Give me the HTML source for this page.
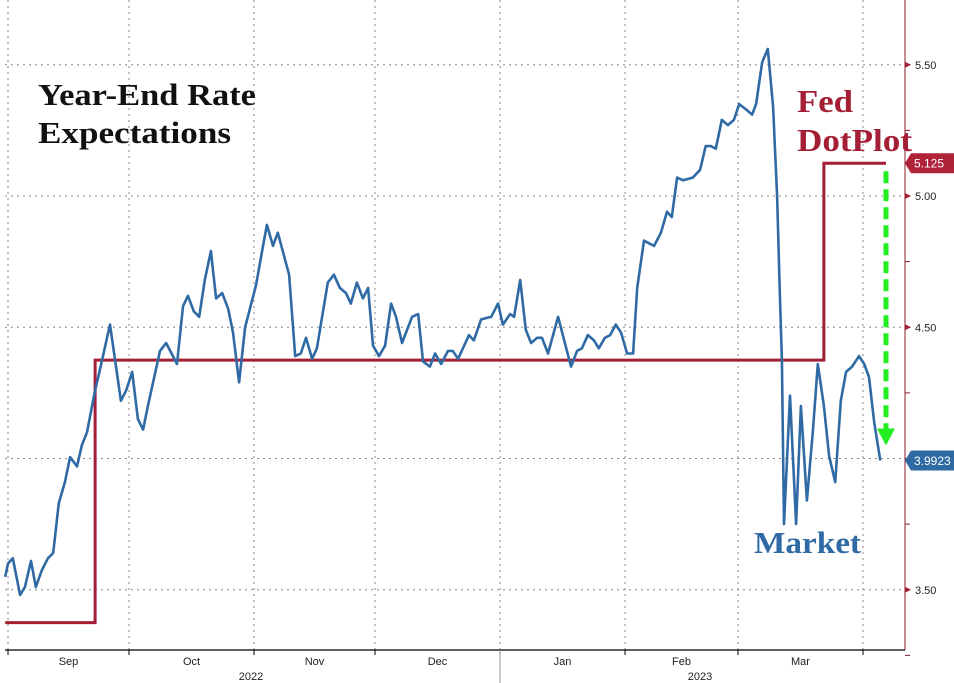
<!DOCTYPE html>
<html><head><meta charset="utf-8">
<style>
html,body{margin:0;padding:0;background:#fff;}
svg{display:block;}
</style></head>
<body>
<svg id="chart" width="954" height="683" viewBox="0 0 954 683" xmlns="http://www.w3.org/2000/svg">
<rect width="954" height="683" fill="#fff"/>
<g id="grid"></g>
<g id="fed"></g>
<g id="market"></g>
<g id="axis"></g>
<text x="38" y="105" font-family="Liberation Serif, serif" font-weight="bold" font-size="31" fill="#111" textLength="218" lengthAdjust="spacingAndGlyphs">Year-End Rate</text>
<text x="38" y="143" font-family="Liberation Serif, serif" font-weight="bold" font-size="31" fill="#111" textLength="193" lengthAdjust="spacingAndGlyphs">Expectations</text>
<text x="797" y="112" font-family="Liberation Serif, serif" font-weight="bold" font-size="32" fill="#a41e35" textLength="56" lengthAdjust="spacingAndGlyphs">Fed</text>
<text x="797" y="151" font-family="Liberation Serif, serif" font-weight="bold" font-size="32" fill="#a41e35" textLength="115" lengthAdjust="spacingAndGlyphs">DotPlot</text>
<text x="754" y="553" font-family="Liberation Serif, serif" font-weight="bold" font-size="31" fill="#2f6aa5" textLength="107" lengthAdjust="spacingAndGlyphs">Market</text>
</svg>
<script>
// Month boundaries (day offsets from Sep 1, 2022)
const monthNames = ["Sep","Oct","Nov","Dec","Jan","Feb","Mar"];
const monthStarts = [0,30,61,91,122,153,181,212];
const yTicks = [3.5,4.5,5.0,5.5];
const gridValues = [3.5,4.0,4.5,5.0,5.5];
// Market-implied year-end rate: day offsets and values
const marketDays = [-0.7,0,1.2,3.0,4.2,5.7,6.9,8.4,9.9,11.2,12.6,14.1,15.4,17.1,18.3,19.6,21.6,22.8,25.3,28.0,29.3,30.8,32.2,33.5,34.7,37.7,39.2,41.9,43.4,44.6,46.1,47.4,48.8,50.3,51.6,53.1,54.6,55.8,57.3,58.8,61.5,63.0,64.2,65.7,66.9,69.7,71.2,72.6,73.9,75.4,76.6,78.1,79.3,80.8,82.3,83.8,85.0,86.5,88.0,89.3,90.5,92.0,93.5,95.0,96.2,97.7,
100.2,101.7,102.9,104.6,105.9,107.4,109.1,110.3,111.6,114.3,115.5,117.3,119.8,121.5,122.7,124.5,125.5,127.0,128.4,129.7,131.2,132.4,133.9,136.4,139.6,141.1,142.3,143.8,145.3,146.5,148.0,149.3,150.7,152.0,153.5,155.0,156.0,157.7,158.9,160.2,161.9,163.4,164.6,165.9,167.4,169.8,171.6,173.0,174.3,175.5,177.0,178.5,180.0,181.3,183.0,184.5,185.5,187.0,188.4,189.7,190.7,191.4,191.9,192.4,193.9,195.4,196.6,198.1,199.6,200.8,202.3,203.6,205.1,206.5,207.8,209.3,211.0,212.3,213.5,214.8,216.3];
const marketValues = [3.549,3.60,3.62,3.48,3.51,3.61,3.51,3.575,3.62,3.64,3.83,3.91,4.005,3.97,4.05,4.10,4.26,4.34,4.51,4.22,4.26,4.33,4.15,4.11,4.20,4.41,4.44,4.36,4.58,4.62,4.56,4.54,4.68,4.79,4.61,4.63,4.57,4.48,4.29,4.50,4.66,4.79,4.89,4.81,4.86,4.70,4.39,4.40,4.46,4.38,4.42,4.56,4.67,4.70,4.65,4.63,4.59,4.67,4.61,4.65,4.43,4.39,4.43,4.59,4.54,4.44,
4.54,4.55,4.37,4.35,4.40,4.36,4.41,4.41,4.38,4.47,4.45,4.53,4.54,4.59,4.51,4.55,4.54,4.68,4.49,4.44,4.46,4.46,4.40,4.54,4.35,4.41,4.42,4.47,4.45,4.42,4.46,4.47,4.51,4.48,4.40,4.40,4.65,4.83,4.82,4.81,4.86,4.94,4.92,5.07,5.06,5.07,5.10,5.19,5.19,5.18,5.29,5.27,5.29,5.35,5.33,5.31,5.35,5.51,5.56,5.34,5.00,4.62,4.375,3.75,4.24,3.75,4.20,3.84,4.11,4.36,4.20,4.01,3.91,4.22,4.33,4.35,4.39,4.36,4.31,4.135,3.9923];
// Fed dot plot median (step series)
const fedDays = [-0.7,21.6,202.3,217.7];
const fedValues = [3.375,4.375,5.125,5.125];
const lastMarket = 3.9923;
const lastFed = 5.125;

const NS="http://www.w3.org/2000/svg";
const X0=8, X1=863, PLOT_L=5, PLOT_R=905, AXIS_Y=650;
function xs(d){return X0+(d/212)*(X1-X0);}
function ys(v){return 458.5-(v-4)*262.5;}
function mk(tag,attrs,parent){const e=document.createElementNS(NS,tag);for(const k in attrs)e.setAttribute(k,attrs[k]);parent.appendChild(e);return e;}
const grid=document.getElementById('grid'),fed=document.getElementById('fed'),mkt=document.getElementById('market'),ax=document.getElementById('axis');

gridValues.forEach(v=>{
  const l=mk('line',{x1:PLOT_L,x2:PLOT_R,y1:ys(v),y2:ys(v),stroke:'#888','stroke-width':1,'stroke-dasharray':'2,4'},grid);
  
  
});
monthStarts.forEach(d=>{
  const l=mk('line',{x1:xs(d),x2:xs(d),y1:0,y2:AXIS_Y,stroke:'#888','stroke-width':1,'stroke-dasharray':'2,4'},grid);
  
  
});

let fp='';
for(let i=0;i<fedDays.length;i++){
  const x=xs(fedDays[i]),y=ys(fedValues[i]);
  if(i===0) fp+=`M${x},${y}`; else fp+=`H${x}V${y}`;
}
const fl=mk('path',{d:fp,fill:'none',stroke:'#a41e35','stroke-width':3},fed);



const mp=marketDays.map((d,i)=>(i?'L':'M')+xs(d).toFixed(1)+','+ys(marketValues[i]).toFixed(1)).join('');
const ml=mk('path',{d:mp,fill:'none',stroke:'#2f6aa5','stroke-width':2.6,'stroke-linejoin':'round'},mkt);



const ax0=xs(fedDays[fedDays.length-1]);
const ar=mk('line',{x1:ax0,x2:ax0,y1:ys(lastFed)+8,y2:ys(lastMarket)-30,stroke:'#22ee22','stroke-width':5,'stroke-dasharray':'12,6'},mkt);


const ah=mk('polygon',{points:`${ax0-9},${ys(lastMarket)-32} ${ax0+9},${ys(lastMarket)-32} ${ax0},${ys(lastMarket)-15}`,fill:'#22ee22'},mkt);



const yl=mk('line',{x1:PLOT_R,x2:PLOT_R,y1:0,y2:AXIS_Y,stroke:'#8b1a2a','stroke-width':1},ax);


const xl=mk('line',{x1:PLOT_L,x2:PLOT_R,y1:AXIS_Y,y2:AXIS_Y,stroke:'#000','stroke-width':1.3},ax);


for(let v=3.25;v<=5.76;v+=0.25){
  const t=mk('line',{x1:PLOT_R,x2:PLOT_R+5,y1:ys(v),y2:ys(v),stroke:'#8b1a2a','stroke-width':1},ax);
  
  
}
yTicks.forEach(v=>{
  const p=mk('polygon',{points:`${PLOT_R},${ys(v)-3} ${PLOT_R+6},${ys(v)} ${PLOT_R},${ys(v)+3}`,fill:'#a41e35'},ax);
  
  
  const t=mk('text',{x:PLOT_R+10,y:ys(v)+4,'font-family':'Liberation Sans, sans-serif','font-size':11,fill:'#222'},ax);
  t.textContent=v.toFixed(2);
  
  
});
function badge(v,txt,color,name){
  const y=ys(v);
  const p=mk('polygon',{points:`${PLOT_R},${y} ${PLOT_R+6},${y-10} 954,${y-10} 954,${y+10} ${PLOT_R+6},${y+10}`,fill:color},ax);
  
  
  const t=mk('text',{x:PLOT_R+9,y:y+4.5,'font-family':'Liberation Sans, sans-serif','font-size':12,fill:'#fff'},ax);
  t.textContent=txt;
  
  
}
badge(lastFed,'5.125','#b0213a','fed-last-value');
badge(lastMarket,'3.9923','#2f6aa5','market-last-value');

monthStarts.forEach(d=>{
  const t=mk('line',{x1:xs(d),x2:xs(d),y1:AXIS_Y,y2:AXIS_Y+5,stroke:'#000','stroke-width':1},ax);
  
  
});
monthNames.forEach((m,i)=>{
  const t=mk('text',{x:(xs(monthStarts[i])+xs(monthStarts[i+1]))/2,y:665,'text-anchor':'middle','font-family':'Liberation Sans, sans-serif','font-size':11,fill:'#222'},ax);
  t.textContent=m;
  
  
});
const div=mk('line',{x1:xs(122),x2:xs(122),y1:AXIS_Y,y2:683,stroke:'#999','stroke-width':1},ax);


[['2022',251],['2023',700]].forEach(([y,x])=>{
  const t=mk('text',{x:x,y:680,'text-anchor':'middle','font-family':'Liberation Sans, sans-serif','font-size':11,fill:'#222'},ax);
  t.textContent=y;
  
  
});
</script>
</body></html>
